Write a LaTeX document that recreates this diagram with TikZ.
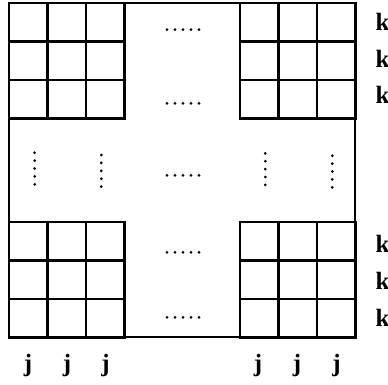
\documentclass[tikz,border=0pt]{standalone}
\usepackage{fontspec}
\setmainfont{Liberation Serif}
\newfontfamily\lblfont{Liberation Serif}
\begin{document}
\begin{tikzpicture}[x=1pt,y=-1pt,
  gridline/.style={line width=2.2pt,line cap=rect},
  lbl/.style={font=\lblfont\bfseries\Huge,inner sep=0pt},
  dotmark/.style={fill=black,draw=none}]
\useasboundingbox (0,0) rectangle (388,384);
% outer frame
\draw[gridline] (9,3) rectangle (355,337);
% four 3x3 grids
\foreach \gx/\gy in {9/3,240/3,9/222,240/222}{
  \foreach \i in {0,1,2,3}{
    \draw[gridline] (\gx+\i*38.5,\gy) -- (\gx+\i*38.5,\gy+115.5);
    \draw[gridline] (\gx,\gy+\i*38.5) -- (\gx+115.5,\gy+\i*38.5);
  }
}
% horizontal dot rows
\foreach \yy in {29.7,103.3,175.3,252.3,317.3}{
  \foreach \k in {0,...,4}{
    \fill[dotmark] (167+\k*8,\yy) circle (1.5);
  }
}
% vertical dot columns
\foreach \xx/\yy in {34.7/152.7,101.3/155,265.3/153.3,332.3/155.7}{
  \foreach \k in {0,...,4}{
    \fill[dotmark] (\xx,\yy+\k*7.9) circle (1.5);
  }
}
% k labels
\node[lbl] (k1) at (382.5,22) {k};
\node[lbl] (k2) at (382.5,58.5) {k};
\node[lbl] (k3) at (382.5,95) {k};
\node[lbl] (k4) at (382.5,244) {k};
\node[lbl] (k5) at (382.5,281) {k};
\node[lbl] (k6) at (382.5,318) {k};
% j labels
\node[lbl] (j1) at (28,366) {j};
\node[lbl] (j2) at (67,366) {j};
\node[lbl] (j3) at (105.5,366) {j};
\node[lbl] (j4) at (258,366) {j};
\node[lbl] (j5) at (297,366) {j};
\node[lbl] (j6) at (336.5,366) {j};
\end{tikzpicture}
\end{document}
